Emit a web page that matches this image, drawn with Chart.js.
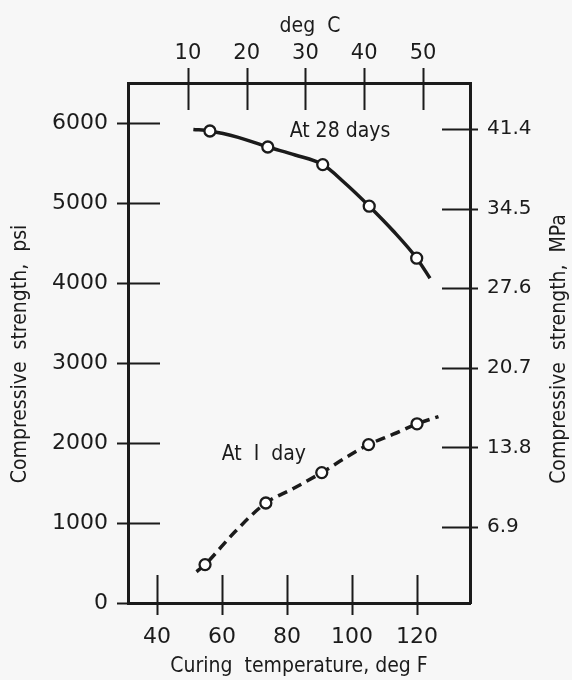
<!DOCTYPE html>
<html>
<head>
<meta charset="utf-8">
<script src="https://cdn.jsdelivr.net/npm/chart.js@4.4.0/dist/chart.umd.min.js"></script>
<style>
  html, body { margin: 0; padding: 0; background: #f7f7f7; }
  #wrap { width: 572px; height: 680px; }
</style>
</head>
<body>
<div id="wrap"><canvas id="strengthChart" width="572" height="680"></canvas></div>
<script>
// values
const tempFTicks = [40, 60, 80, 100, 120];
const tempCTicks = [10, 20, 30, 40, 50];
const psiTicks = [0, 1000, 2000, 3000, 4000, 5000, 6000];
const mpaTicks = [6.9, 13.8, 20.7, 27.6, 34.5, 41.4];

// tested at 28 days (deg F, psi)
const temp28 = [56.3, 74.1, 91.0, 105.3, 119.9];
const psi28 = [5900, 5700, 5480, 4960, 4310];
// the drawn curve
const curve28Temp = [51.2, 56.3, 65.0, 74.1, 82.5, 91.0, 97.8, 105.3, 112.7, 119.9, 124.0];
const curve28Psi = [5920, 5900, 5820, 5700, 5600, 5480, 5250, 4960, 4650, 4310, 4060];

// tested at 1 day (deg F, psi)
const temp1 = [54.8, 73.5, 90.7, 105.1, 120.0];
const psi1 = [480, 1250, 1630, 1980, 2240];
const curve1Temp = [52.2, 54.8, 64.0, 73.5, 81.9, 90.7, 97.8, 105.1, 112.7, 120.0, 126.6];
const curve1Psi = [390, 480, 890, 1250, 1430, 1630, 1810, 1980, 2110, 2240, 2330];

const ink = '#1b1b1b';
const sans = "'DejaVu Sans', sans-serif";
const narrow = "'DejaVu Sans Condensed', 'DejaVu Sans', sans-serif";

function toPoints(xs, ys) {
    return xs.map((x, i) => ({ x: x, y: ys[i] }));
}
function fixedTicks(list) {
    return function (scale) {
        scale.ticks = list.map(v => ({ value: v }));
    };
}

// tick marks cross the frame, and the loose labels
const frameExtras = {
    id: 'frameExtras',
    afterDraw(chart) {
        const { ctx, chartArea: a, scales } = chart;
        ctx.save();
        ctx.strokeStyle = ink;
        ctx.lineWidth = 2;
        ctx.beginPath();
        psiTicks.forEach(v => {
            const y = Math.round(scales.y.getPixelForValue(v)) + 0.5;
            ctx.moveTo(a.left - 11, y); ctx.lineTo(a.left + 32, y);
        });
        mpaTicks.forEach(v => {
            const y = Math.round(scales.ympa.getPixelForValue(v)) + 0.5;
            ctx.moveTo(a.right - 28, y); ctx.lineTo(a.right + 8, y);
        });
        tempFTicks.forEach(v => {
            const x = Math.round(scales.x.getPixelForValue(v)) + 0.5;
            ctx.moveTo(x, a.bottom + 12); ctx.lineTo(x, a.bottom - 28);
        });
        tempCTicks.forEach(v => {
            const x = Math.round(scales.xc.getPixelForValue(v)) + 0.5;
            ctx.moveTo(x, a.top - 15); ctx.lineTo(x, a.top + 27);
        });
        ctx.stroke();

        ctx.fillStyle = ink;
        ctx.textAlign = 'center';
        ctx.textBaseline = 'middle';
        ctx.font = '21px ' + narrow;
        ctx.fillText('At 28 days', scales.x.getPixelForValue(96.3), scales.y.getPixelForValue(5890));
        ctx.fillText('At  I  day', scales.x.getPixelForValue(72.9), scales.y.getPixelForValue(1860));
        ctx.fillText('deg  C', 310, 27);

        // both side titles read upwards
        ctx.save();
        ctx.translate(21, 354);
        ctx.rotate(-Math.PI / 2);
        ctx.fillText('Compressive  strength,  psi', 0, 0);
        ctx.restore();

        ctx.translate(560, 349);
        ctx.rotate(-Math.PI / 2);
        ctx.fillText('Compressive  strength,  MPa', 0, 0);
        ctx.restore();
    }
};

const noGrid = { display: false, drawTicks: false, tickLength: 0 };
const frame = { display: true, color: ink, width: 3 };

new Chart(document.getElementById('strengthChart'), {
    type: 'line',
    data: {
        datasets: [
            {
                data: toPoints(temp28, psi28),
                showLine: false,
                pointRadius: 5.5,
                pointBackgroundColor: '#ffffff',
                pointBorderColor: ink,
                pointBorderWidth: 2.3
            },
            {
                data: toPoints(temp1, psi1),
                showLine: false,
                pointRadius: 5.5,
                pointBackgroundColor: '#ffffff',
                pointBorderColor: ink,
                pointBorderWidth: 2.3
            },
            {
                data: toPoints(curve28Temp, curve28Psi),
                borderColor: ink,
                borderWidth: 3.5,
                pointRadius: 0,
                cubicInterpolationMode: 'monotone'
            },
            {
                data: toPoints(curve1Temp, curve1Psi),
                borderColor: ink,
                borderWidth: 3.5,
                borderDash: [10, 6],
                pointRadius: 0,
                cubicInterpolationMode: 'monotone'
            }
        ]
    },
    options: {
        responsive: false,
        devicePixelRatio: 1,
        animation: false,
        layout: { padding: 0 },
        plugins: {
            legend: { display: false },
            tooltip: { enabled: false }
        },
        scales: {
            x: {
                type: 'linear',
                position: 'bottom',
                min: 31.1,
                max: 136.3,
                afterBuildTicks: fixedTicks(tempFTicks),
                afterFit: s => { s.height = 77; },
                grid: noGrid,
                border: frame,
                ticks: {
                    autoSkip: false,
                    maxRotation: 0,
                    padding: 21,
                    color: ink,
                    font: { family: sans, size: 22 },
                    callback: v => String(v)
                },
                title: {
                    display: true,
                    text: 'Curing  temperature, deg F',
                    color: ink,
                    font: { family: narrow, size: 21 },
                    padding: { top: 0, bottom: 1 }
                }
            },
            xc: {
                type: 'linear',
                position: 'top',
                min: -0.2,
                max: 58.0,
                afterBuildTicks: fixedTicks(tempCTicks),
                afterFit: s => { s.height = 83; },
                grid: noGrid,
                border: frame,
                ticks: {
                    autoSkip: false,
                    maxRotation: 0,
                    padding: 17,
                    color: ink,
                    font: { family: sans, size: 21 },
                    callback: v => String(v)
                }
            },
            y: {
                type: 'linear',
                position: 'left',
                min: 0,
                max: 6500,
                afterBuildTicks: fixedTicks(psiTicks),
                afterFit: s => { s.width = 128; },
                grid: noGrid,
                border: frame,
                ticks: {
                    autoSkip: false,
                    padding: 20,
                    color: ink,
                    font: { family: sans, size: 22 },
                    callback: v => String(v)
                }
            },
            ympa: {
                type: 'linear',
                position: 'right',
                min: 0.3,
                max: 45.4,
                afterBuildTicks: fixedTicks(mpaTicks),
                afterFit: s => { s.width = 102; },
                grid: noGrid,
                border: frame,
                ticks: {
                    autoSkip: false,
                    padding: 17,
                    color: ink,
                    font: { family: sans, size: 20 },
                    callback: v => v.toFixed(1)
                }
            }
        }
    },
    plugins: [frameExtras]
});
</script>
</body>
</html>
